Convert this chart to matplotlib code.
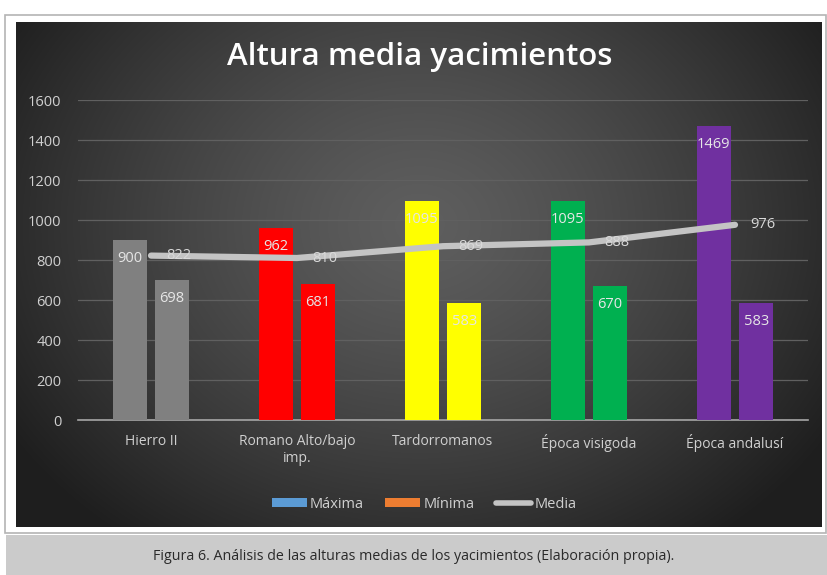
import numpy as np
import matplotlib
matplotlib.use("Agg")
import matplotlib.pyplot as plt
from matplotlib.patches import Rectangle
from matplotlib.lines import Line2D

categories = ["Hierro II", "Romano Alto/bajo\nimp.", "Tardorromanos", "Época visigoda", "Época andalusí"]
maxima = [900, 962, 1095, 1095, 1469]
minima = [698, 681, 583, 670, 583]
media = [822, 810, 869, 888, 976]
bar_colors = ["#808080", "#ff0000", "#ffff00", "#00b050", "#7030a0"]
yticks = [0, 200, 400, 600, 800, 1000, 1200, 1400, 1600]

plt.rcParams["font.family"] = ["Open Sans", "DejaVu Sans"]

W, H = 828, 575
fig = plt.figure(figsize=(W / 100, H / 100), dpi=100, facecolor="white")

def fx(px):
    return px / W

def fy(py):
    return 1 - py / H

# outer frame of the chart
fig.patches.append(Rectangle((fx(5), fy(533)), fx(821), 518 / H, transform=fig.transFigure,
                             facecolor="white", edgecolor="#b4b4b4", linewidth=1.2, zorder=-10))
# caption band
fig.patches.append(Rectangle((fx(6), 0), fx(822), 40 / H, transform=fig.transFigure,
                             facecolor="#cbcbcb", edgecolor="none", zorder=-10))
fig.text(0.5, fy(556), "Figura 6. Análisis de las alturas medias de los yacimientos (Elaboración propia).",
         ha="center", va="center", fontsize=10.3, color="#2a2a2a")

# dark radial-gradient background
bg = fig.add_axes([fx(16), fy(527), fx(806), 505 / H])
bg.set_zorder(-5)
ny, nx = 300, 500
yy, xx = np.mgrid[0:ny, 0:nx]
cx, cy = nx * 0.5, ny * 0.40
r = np.sqrt(((xx - cx) / (nx * 0.60)) ** 2 + ((yy - cy) / (ny * 0.78)) ** 2)
r = np.clip(r, 0, 1)
c_in, c_out = 0.37, 0.12
val = c_in + (c_out - c_in) * r ** 1.3
bg.imshow(np.dstack([val, val, val]), aspect="auto", extent=[0, 1, 0, 1], interpolation="bilinear")
bg.set_axis_off()

# main plot
ax = fig.add_axes([fx(78), fy(420), fx(730), 320 / H])
ax.set_zorder(1)
ax.set_facecolor("none")
x = np.arange(len(categories))
bw = 0.23
off = 0.145
ax.bar(x - off, maxima, width=bw, color=bar_colors, zorder=3)
ax.bar(x + off, minima, width=bw, color=bar_colors, zorder=3)
ax.plot(x, media, color="#c4c4c4", linewidth=4.5, solid_capstyle="round", zorder=4)

lab_col = "#e6e6e6"
for i in range(len(categories)):
    ax.text(x[i] - off, maxima[i] - 92, str(maxima[i]), ha="center", va="center",
            fontsize=10.5, color=lab_col, zorder=5)
    ax.text(x[i] + off, minima[i] - 92, str(minima[i]), ha="center", va="center",
            fontsize=10.5, color=lab_col, zorder=5)
    ax.text(x[i] + 0.19, media[i], str(media[i]), ha="center", va="center",
            fontsize=10.5, color="#d9d9d9", zorder=5)

ax.set_xlim(-0.5, len(categories) - 0.5)
ax.set_ylim(0, 1600)
ax.set_yticks(yticks)
ax.set_yticklabels([str(v) for v in yticks], color="#d0d0d0", fontsize=10.5)
ax.set_xticks(x)
ax.set_xticklabels(categories, color="#d0d0d0", fontsize=10)
ax.tick_params(axis="both", length=0)
ax.tick_params(axis="y", pad=12)
ax.tick_params(axis="x", pad=10)
ax.grid(axis="y", color="#606060", linewidth=0.9, zorder=0)
for s in ["top", "right", "left"]:
    ax.spines[s].set_visible(False)
ax.spines["bottom"].set_color("#a6a6a6")
ax.spines["bottom"].set_linewidth(1.2)

fig.text(fx(420), fy(57), "Altura media yacimientos", ha="center", va="center",
         fontsize=22.5, fontweight="semibold", color="white", zorder=5)

handles = [
    Rectangle((0, 0), 1, 1, facecolor="#5b9bd5"),
    Rectangle((0, 0), 1, 1, facecolor="#ed7d31"),
    Line2D([0], [0], color="#c4c4c4", linewidth=4, solid_capstyle="round"),
]
leg = fig.legend(handles, ["Máxima", "Mínima", "Media"], loc="center", bbox_to_anchor=(fx(424), fy(504)),
                 ncol=3, frameon=False, fontsize=10.5, labelcolor="#d0d0d0", handlelength=2.4,
                 handleheight=0.55, handletextpad=0.2, columnspacing=1.5)
leg.set_zorder(5)

fig.savefig("out.png", dpi=100, facecolor="white")
